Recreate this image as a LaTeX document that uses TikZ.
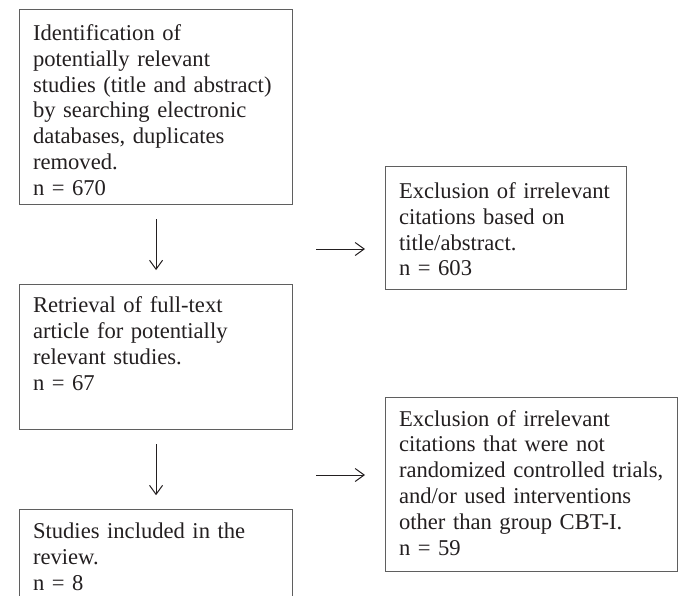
\documentclass[tikz,border=0pt]{standalone}
\usepackage{fontspec}
\setmainfont{Liberation Serif}
\usetikzlibrary{positioning,arrows.meta}
\definecolor{boxgray}{RGB}{95,95,95}
\definecolor{inkblack}{RGB}{35,31,32}
\begin{document}
\begin{tikzpicture}[x=1pt, y=-1pt,
		box/.style={draw=boxgray, line width=1.1pt, anchor=north west, align=left, inner xsep=13.5pt, inner ysep=0pt, font=\fontsize{22.6}{25.8}\selectfont, text=inkblack},
		flow/.style={-{Straight Barb[length=9pt, width=13pt]}, line width=1pt, draw=inkblack}]
		\useasboundingbox (0,0) rectangle (678,595);
		\clip (0,0) rectangle (678,595);
		
		\node[box, text width=246pt, text height=31pt, text depth=164pt] 				(ident) at (19,9) 	{Identification of\\ potentially relevant\\ studies (title and abstract)\\ by searching electronic\\ databases, duplicates\\ removed.\\ n = 670};
		\node[box, below=79pt of ident.south west, anchor=north west, text width=246pt, text height=28pt, text depth=117pt] 	(retr) 	{Retrieval of full-text\\ article for potentially\\ relevant studies.\\ n = 67};
		\node[box, below=79pt of retr.south west, anchor=north west, text width=246pt, text height=29pt, text depth=81pt] 	(incl) 	{Studies included in the\\ review.\\ n = 8};
		\node[box, text width=214pt, text height=32pt, text depth=91pt] 				(excl1) at (385,166) 	{Exclusion of irrelevant\\ citations based on\\ title/abstract.\\ n = 603};
		\node[box, text width=265pt, text height=28.5pt, text depth=145.5pt] 			(excl2) at (385,397) 	{Exclusion of irrelevant\\ citations that were not\\ randomized controlled trials,\\ and/or used interventions\\ other than group CBT-I.\\ n = 59};
		
		\coordinate (from1) at (316,249);
		\coordinate (to1) 	at (365,249);
		\coordinate (from2) at (316,475);
		\coordinate (to2) 	at (365,475);
		
		\draw[flow] ([yshift=-14pt]ident.south) -- ([yshift=14pt]retr.north);
		\draw[flow] ([yshift=-14pt]retr.south) -- ([yshift=14pt]incl.north);
		\draw[flow] (from1) -- (to1);
		\draw[flow] (from2) -- (to2);
		\end{tikzpicture}
\end{document}
